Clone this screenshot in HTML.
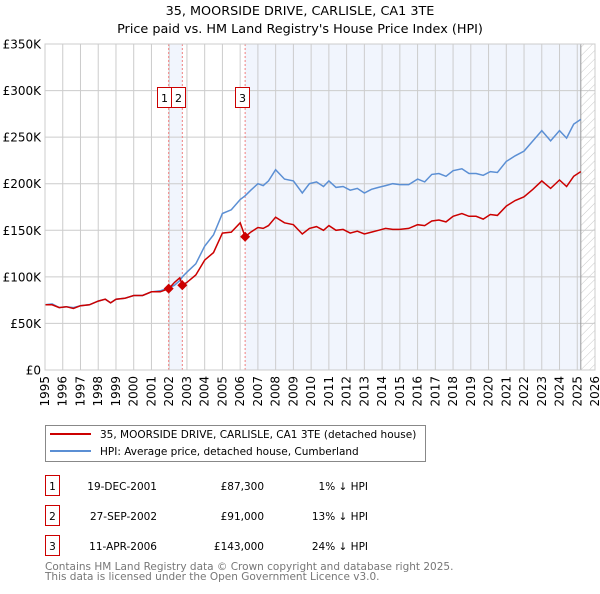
<!DOCTYPE html>
<html><head><meta charset="utf-8"><style>
body{margin:0;background:#fff;font-family:"DejaVu Sans","Liberation Sans",sans-serif;}
svg text{font-family:"DejaVu Sans","Liberation Sans",sans-serif;}
</style></head><body>
<svg id="chart" width="600" height="590" viewBox="0 0 600 590" xmlns="http://www.w3.org/2000/svg">
<defs><pattern id="hatch" width="6" height="6" patternUnits="userSpaceOnUse" patternTransform="rotate(45)"><line x1="0" y1="0" x2="0" y2="6" stroke="#bbb" stroke-width="0.8"/></pattern></defs>
<text x="300" y="15" text-anchor="middle" font-size="12.8">35, MOORSIDE DRIVE, CARLISLE, CA1 3TE</text>
<text x="300" y="33" text-anchor="middle" font-size="12.8">Price paid vs. HM Land Registry's House Price Index (HPI)</text>
<g id="plot"></g>
<g>
<rect x="45.5" y="425.5" width="380" height="36" fill="#fff" stroke="#888"/>
<line x1="50" y1="434" x2="91" y2="434" stroke="#cc0000" stroke-width="2"/>
<text x="100" y="438" font-size="10.5">35, MOORSIDE DRIVE, CARLISLE, CA1 3TE (detached house)</text>
<line x1="50" y1="451" x2="91" y2="451" stroke="#5b8fd4" stroke-width="2"/>
<text x="100" y="455" font-size="10.5">HPI: Average price, detached house, Cumberland</text>
</g>
<g id="table" font-size="10.5"></g>
<text x="45" y="570" font-size="10.5" fill="#777">Contains HM Land Registry data © Crown copyright and database right 2025.</text>
<text x="45" y="580" font-size="10.5" fill="#777">This data is licensed under the Open Government Licence v3.0.</text>
</svg>
<script>
const yearTicks=[1995,1996,1997,1998,1999,2000,2001,2002,2003,2004,2005,2006,2007,2008,2009,2010,2011,2012,2013,2014,2015,2016,2017,2018,2019,2020,2021,2022,2023,2024,2025,2026];
const valueTicks=[0,50000,100000,150000,200000,250000,300000,350000];
const valueLabels=["£0","£50K","£100K","£150K","£200K","£250K","£300K","£350K"];
const dates=[1995.0,1995.4,1995.8,1996.2,1996.6,1997.0,1997.5,1998.0,1998.4,1998.7,1999.0,1999.5,2000.0,2000.5,2001.0,2001.5,2001.97,2002.3,2002.6,2002.74,2003.0,2003.5,2004.0,2004.5,2005.0,2005.5,2006.0,2006.28,2006.6,2007.0,2007.3,2007.6,2008.0,2008.5,2009.0,2009.5,2009.9,2010.3,2010.7,2011.0,2011.4,2011.8,2012.2,2012.6,2013.0,2013.4,2013.8,2014.2,2014.6,2015.0,2015.5,2016.0,2016.4,2016.8,2017.2,2017.6,2018.0,2018.5,2018.9,2019.3,2019.7,2020.1,2020.5,2021.0,2021.5,2022.0,2022.5,2023.0,2023.5,2024.0,2024.4,2024.8,2025.2];
const hpiValues=[70000,71000,67000,68000,67000,69000,70000,74000,76000,72000,76000,77000,80000,80000,84000,85000,88000,91000,96000,100000,105000,114000,133000,145000,168000,172000,183000,187000,193000,200000,198000,203000,215000,205000,203000,190000,200000,202000,197000,203000,196000,197000,193000,195000,190000,194000,196000,198000,200000,199000,199000,205000,202000,210000,211000,208000,214000,216000,211000,211000,209000,213000,212000,224000,230000,235000,246000,257000,246000,257000,249000,264000,269000];
const paidValues=[70000,70000,67000,68000,66000,69000,70000,74000,76000,72000,76000,77000,80000,80000,84000,84000,87300,94000,99000,91000,94000,102000,118000,126000,147000,148000,158000,143000,148000,153000,152000,155000,164000,158000,156000,146000,152000,154000,150000,155000,150000,151000,147000,149000,146000,148000,150000,152000,151000,151000,152000,156000,155000,160000,161000,159000,165000,168000,165000,165000,162000,167000,166000,176000,182000,186000,194000,203000,195000,204000,197000,208000,213000];
const saleDates=[2001.97,2002.74,2006.28];
const salePrices=[87300,91000,143000];
const saleLabels=["19-DEC-2001","27-SEP-2002","11-APR-2006"];
const salePriceText=["£87,300","£91,000","£143,000"];
const saleDiff=["1% ↓ HPI","13% ↓ HPI","24% ↓ HPI"];
const dataEnd=2025.2;

const NS="http://www.w3.org/2000/svg";
const X0=45,X1=595,Y0=370,Y1=44;
const xs=y=>X0+(y-1995)/(2026-1995)*(X1-X0);
const ys=v=>Y0-v/350000*(Y0-Y1);
const plot=document.getElementById('plot');
function mk(tag,attrs,parent){const e=document.createElementNS(NS,tag);for(const k in attrs)e.setAttribute(k,attrs[k]);(parent||plot).appendChild(e);return e;}
let e;
e=mk('rect',{x:X0,y:Y1,width:X1-X0,height:Y0-Y1,fill:'#fff'});


e=mk('rect',{x:xs(saleDates[0]),y:Y1,width:xs(saleDates[1])-xs(saleDates[0]),height:Y0-Y1,fill:'#eef3fc',opacity:0.8});


e=mk('rect',{x:xs(saleDates[2]),y:Y1,width:xs(dataEnd)-xs(saleDates[2]),height:Y0-Y1,fill:'#eef3fc',opacity:0.8});


e=mk('rect',{x:xs(dataEnd),y:Y1,width:X1-xs(dataEnd),height:Y0-Y1,fill:'url(#hatch)'});


yearTicks.forEach(yr=>{
  e=mk('line',{x1:xs(yr),x2:xs(yr),y1:Y1,y2:Y0,stroke:'#ccc','stroke-width':1});
  
  
  e=mk('text',{x:0,y:0,'font-size':12,'text-anchor':'end',transform:`translate(${xs(yr)+4},${Y0+6}) rotate(-90)`});
  e.textContent=yr;
  
  
});
valueTicks.forEach((v,i)=>{
  e=mk('line',{x1:X0,x2:X1,y1:ys(v),y2:ys(v),stroke:'#ccc','stroke-width':1});
  
  
  e=mk('text',{x:X0-4,y:ys(v)+4.5,'font-size':12,'text-anchor':'end'});
  e.textContent=valueLabels[i];
  
  
});
e=mk('line',{x1:xs(dataEnd),x2:xs(dataEnd),y1:Y1,y2:Y0,stroke:'#999','stroke-width':1});


saleDates.forEach((d,i)=>{
  e=mk('line',{x1:xs(d),x2:xs(d),y1:Y1,y2:Y0,stroke:'#f08080','stroke-width':1,'stroke-dasharray':'2,2'});
  
  
});
const pts=(arr)=>dates.map((d,i)=>xs(d).toFixed(1)+','+ys(arr[i]).toFixed(1)).join(' ');
e=mk('polyline',{points:pts(hpiValues),fill:'none',stroke:'#5b8fd4','stroke-width':1.5});


e=mk('polyline',{points:pts(paidValues),fill:'none',stroke:'#cc0000','stroke-width':1.5});


saleDates.forEach((d,i)=>{
  const cx=xs(d),cy=ys(salePrices[i]);
  e=mk('polygon',{points:`${cx},${cy-5} ${cx+5},${cy} ${cx},${cy+5} ${cx-5},${cy}`,fill:'#cc0000'});
  
  
});
const boxX=[157,171,235];
boxX.forEach((bx,i)=>{
  e=mk('rect',{x:bx+0.5,y:87.5,width:14,height:20,fill:'#fff',stroke:'#cc0000'});
  
  
  e=mk('text',{x:bx+7.5,y:102,'font-size':11,'text-anchor':'middle'});
  e.textContent=i+1;
  
  
});
e=mk('rect',{x:X0,y:Y1,width:X1-X0,height:Y0-Y1,fill:'none',stroke:'#ccc'});


const tbl=document.getElementById('table');
saleDates.forEach((d,i)=>{
  const ry=475+i*30;
  e=mk('rect',{x:45.5,y:ry+0.5,width:14,height:20,fill:'#fff',stroke:'#cc0000'},tbl);
  
  
  e=mk('text',{x:52.5,y:ry+15,'text-anchor':'middle'},tbl);e.textContent=i+1;
  
  
  e=mk('text',{x:157,y:ry+15,'text-anchor':'end'},tbl);e.textContent=saleLabels[i];
  
  
  e=mk('text',{x:264,y:ry+15,'text-anchor':'end'},tbl);e.textContent=salePriceText[i];
  
  
  e=mk('text',{x:368,y:ry+15,'text-anchor':'end'},tbl);e.textContent=saleDiff[i];
  
  
});
</script>
</body></html>
